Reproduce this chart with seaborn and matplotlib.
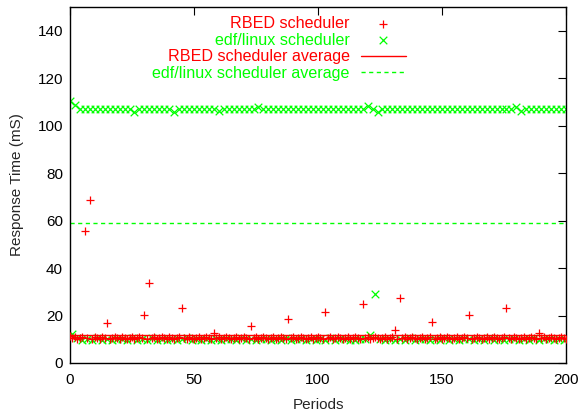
import numpy as np
import pandas as pd
import matplotlib
matplotlib.use("Agg")
import matplotlib.pyplot as plt
import seaborn as sns

periods = list(range(0, 201))

rbed_values = [
    11.5, 10.5, 11.0, 10.0, 10.5, 11.0, 55.7, 10.5, 68.8, 10.0, 11.0, 10.5, 10.0, 11.0, 10.5, 17.0, 10.0, 10.5, 11.0, 10.5,
    10.0, 11.0, 10.5, 10.0, 10.5, 11.0, 10.0, 10.5, 11.0, 10.5, 20.1, 10.0, 33.9, 10.5, 11.0, 10.0, 10.5, 11.0, 10.5, 10.0,
    11.0, 10.5, 10.0, 10.5, 11.0, 23.2, 10.5, 10.0, 11.0, 10.5, 10.0, 10.5, 11.0, 10.0, 10.5, 11.0, 10.5, 10.0, 12.8, 10.5,
    11.0, 10.0, 10.5, 11.0, 10.5, 10.0, 10.5, 11.0, 10.0, 10.5, 11.0, 10.5, 10.0, 15.6, 10.5, 11.0, 10.0, 10.5, 11.0, 10.5,
    10.0, 10.5, 11.0, 10.0, 10.5, 11.0, 10.5, 10.0, 18.6, 10.5, 11.0, 10.0, 10.5, 11.0, 10.5, 10.0, 10.5, 11.0, 10.0, 10.5,
    11.0, 10.5, 10.0, 21.5, 10.5, 11.0, 10.0, 10.5, 11.0, 10.5, 10.0, 10.5, 11.0, 10.0, 10.5, 11.0, 10.5, 10.0, 24.9, 10.5,
    11.0, 10.0, 10.5, 11.0, 10.5, 10.0, 10.5, 11.0, 10.0, 10.5, 11.0, 13.9, 10.0, 27.4, 10.5, 11.0, 10.0, 10.5, 11.0, 10.5,
    10.0, 10.5, 11.0, 10.0, 10.5, 11.0, 17.3, 10.0, 10.5, 11.0, 10.0, 10.5, 11.0, 10.5, 10.0, 10.5, 11.0, 10.0, 10.5, 11.0,
    10.5, 20.3, 10.0, 10.5, 11.0, 10.5, 10.0, 10.5, 11.0, 10.0, 10.5, 11.0, 10.5, 10.0, 10.5, 11.0, 23.2, 10.5, 10.0, 11.0,
    10.5, 10.0, 10.5, 11.0, 10.0, 10.5, 11.0, 10.5, 10.0, 12.7, 10.5, 11.0, 10.0, 10.5, 11.0, 10.5, 10.0, 10.5, 11.0, 10.5,
    10.0,
]

# edf/linux values at even periods (0, 2, ..., 200)
edf_even_values = [
    110.3, 108.6, 107.2, 107.0, 106.9, 107.1, 107.0, 106.9, 107.1, 107.0,
    106.9, 107.0, 107.1, 105.9, 107.0, 107.1, 106.9, 107.0, 107.1, 106.9,
    107.0, 105.9, 107.1, 107.0, 106.9, 107.1, 107.0, 106.9, 107.0, 107.1,
    106.3, 107.0, 106.9, 107.1, 107.0, 107.0, 106.9, 107.1, 107.9, 107.0,
    106.9, 107.1, 107.0, 106.9, 107.0, 107.1, 107.0, 106.9, 107.1, 107.0,
    106.9, 107.0, 107.1, 107.0, 106.9, 107.1, 107.0, 106.9, 107.0, 107.1,
    108.2, 107.0, 105.6, 107.1, 107.0, 106.9, 107.0, 107.1, 106.9, 107.0,
    107.1, 106.9, 107.0, 107.0, 107.1, 106.9, 107.0, 107.1, 106.9, 107.0,
    107.0, 107.1, 106.9, 107.0, 107.1, 107.0, 106.9, 107.0, 107.1, 107.0,
    108.0, 106.1, 107.0, 106.9, 107.1, 107.0, 106.9, 107.0, 107.1, 107.0,
    107.0,
]

# edf/linux values at odd periods (1, 3, ..., 199)
edf_odd_values = [
    12.4, 10.5, 9.8, 10.2, 9.6, 10.4, 9.9, 10.1, 9.7, 10.3,
    10.0, 9.6, 10.4, 9.8, 10.2, 9.7, 10.5, 9.9, 10.1, 9.8,
    10.3, 9.6, 10.0, 10.4, 9.7, 10.2, 9.9, 10.1, 9.6, 10.3,
    9.8, 10.2, 10.0, 9.7, 10.4, 9.9, 10.1, 9.6, 10.3, 10.0,
    9.7, 10.2, 9.9, 10.4, 9.8, 10.0, 10.3, 9.6, 10.1, 9.9,
    10.2, 9.8, 10.4, 9.7, 10.0, 10.3, 9.9, 9.6, 10.1, 10.2,
    11.8, 29.1, 10.0, 9.7, 10.3, 9.9, 10.1, 9.6, 10.4, 9.8,
    10.0, 10.3, 9.7, 10.1, 9.9, 10.4, 9.6, 10.2, 9.8, 10.0,
    10.3, 9.7, 10.1, 9.9, 10.4, 9.8, 10.0, 9.6, 10.2, 10.3,
    9.9, 10.1, 9.7, 10.4, 9.8, 10.0, 10.2, 9.6, 10.3, 9.9,
]

edf_values = []
for p in periods:
    if p % 2 == 0:
        edf_values.append(edf_even_values[p // 2])
    else:
        edf_values.append(edf_odd_values[p // 2])

x_ticks = [0, 50, 100, 150, 200]
y_ticks = [0, 20, 40, 60, 80, 100, 120, 140]

df = pd.DataFrame({"period": periods, "rbed": rbed_values, "edf": edf_values})
rbed_avg = float(np.mean(rbed_values))
edf_avg = float(np.mean(edf_values))

sns.set_style("white")
plt.rcParams["font.family"] = ["Liberation Sans", "DejaVu Sans"]

RED = "#ff0000"
GREEN = "#00ff00"
FS = 11

fig = plt.figure(figsize=(5.8, 4.17), dpi=100)
ax = fig.add_axes([70 / 580, 54 / 417, 496 / 580, 356 / 417])

sns.scatterplot(data=df, x="period", y="rbed", marker="+", color=RED, s=40,
                linewidth=0.9, ax=ax, label="RBED scheduler", zorder=3)
sns.scatterplot(data=df, x="period", y="edf", marker="x", color=GREEN, s=30,
                linewidth=0.9, ax=ax, label="edf/linux scheduler", zorder=2)
ax.axhline(rbed_avg, color=RED, lw=1.0, label="RBED scheduler average", zorder=4)
ax.axhline(edf_avg, color=GREEN, lw=1.0, ls=(0, (3, 2.5)), label="edf/linux scheduler average", zorder=1)

ax.set_xlim(0, 200)
ax.set_ylim(0, 150)
ax.set_xticks(x_ticks)
ax.set_yticks(y_ticks)
ax.tick_params(direction="in", length=6, width=0.8, top=True, right=True,
               labelsize=FS, colors="black", pad=5)
ax.tick_params(axis="x", pad=7)
for s in ax.spines.values():
    s.set_color("black")
    s.set_linewidth(1.0)
ax.set_xlabel("Periods", fontsize=FS, labelpad=8)
ax.set_ylabel("Response Time (mS)", fontsize=FS, labelpad=9.5)

leg = ax.legend(loc="upper right", frameon=False,
                markerfirst=False, fontsize=11.6, handlelength=2.8, handletextpad=0.7,
                labelspacing=0.1, borderaxespad=0.0, borderpad=0.0,
                labelcolor=[RED, GREEN, RED, GREEN],
                bbox_to_anchor=(406 / 580, 1 - 16 / 417), bbox_transform=fig.transFigure)

fig.savefig("out.png", dpi=100)
